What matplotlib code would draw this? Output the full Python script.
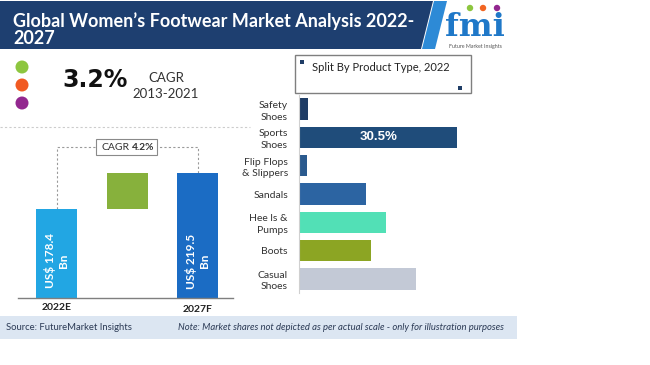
import matplotlib
matplotlib.use("Agg")
import matplotlib.pyplot as plt
from matplotlib.patches import Rectangle, Polygon, Circle

# ---- data ----
years = ["2022E", "", "2027F"]
market_start = 178.4
market_end = 219.5
cagr_forecast = "4.2%"
cagr_hist = "3.2%"
cagr_hist_period = "2013-2021"

products = ["Safety\nShoes", "Sports\nShoes", "Flip Flops\n& Slippers", "Sandals",
            "Hee ls &\nPumps", "Boots", "Casual\nShoes"]
shares = [1.7, 30.5, 1.6, 13.0, 16.8, 13.9, 22.5]
product_colors = ["#1f3d66", "#1f4c7a", "#2a5a8e", "#2c64a2", "#52e0b6", "#8ca523", "#c3c9d6"]

W, H = 650, 365
fig = plt.figure(figsize=(W / 100, H / 100), dpi=100)
fig.patch.set_facecolor("white")

def px_axes(x0, y0, x1, y1):
    return [x0 / W, 1 - y1 / H, (x1 - x0) / W, (y1 - y0) / H]

FONT = "Lato"

# ---- left chart: waterfall ----
axl = fig.add_axes(px_axes(18, 130, 233, 298))
ymin = 77
axl.set_xlim(-0.55, 2.5)
axl.set_ylim(ymin, ymin + 168 / 0.875)
bw = 0.58
axl.bar(0, market_start - ymin, bottom=ymin, width=bw, color="#22a6e3", zorder=2)
axl.bar(1, market_end - market_start, bottom=market_start, width=bw, color="#87b13c", zorder=2)
axl.bar(2, market_end - ymin, bottom=ymin, width=bw, color="#1b6cc4", zorder=2)
for s in ["top", "right", "left"]:
    axl.spines[s].set_visible(False)
axl.spines["bottom"].set_color("#7f7f7f")
axl.spines["bottom"].set_linewidth(1.0)
axl.set_yticks([])
axl.set_xticks([])
axl.patch.set_alpha(0)

bracket_y = ymin + (298 - 147) / 0.875
axl.plot([0, 0, 2, 2], [market_start, bracket_y, bracket_y, market_end],
         linestyle=(0, (2, 2)), color="#9a9a9a", lw=0.8, clip_on=False, zorder=1)

text_y = ymin + (298 - 261) / 0.875
for xi, v in [(0, market_start), (2, market_end)]:
    axl.text(xi, text_y, f"US$ {v}\nBn", rotation=90, ha="center", va="center",
             color="white", fontsize=8.5, fontweight="bold", family=FONT,
             multialignment="center", linespacing=1.25, zorder=3)

# ---- right chart: product split ----
axr = fig.add_axes(px_axes(299, 95, 470, 293))
ypos = list(range(len(products)))
axr.barh(ypos, shares, height=0.76, color=product_colors, zorder=2)
axr.set_ylim(len(products) - 0.5, -0.5)
axr.set_xlim(0, (470 - 299) / 5.19)
for s in ["top", "right", "bottom"]:
    axr.spines[s].set_visible(False)
axr.spines["left"].set_color("#d0d0d0")
axr.spines["left"].set_linewidth(0.8)
axr.set_xticks([])
axr.set_yticks(ypos)
axr.set_yticklabels(products, fontsize=7.5, color="#333333", family=FONT,
                    linespacing=1.35, ha="right")
axr.tick_params(axis="y", length=0, pad=8)
axr.patch.set_alpha(0)
imax = shares.index(max(shares))
axr.text(shares[imax] / 2, imax, f"{shares[imax]}%", ha="center", va="center",
         color="white", fontsize=9.5, fontweight="bold", family="Liberation Sans", zorder=3)

# ---- overlay / decorations in pixel coordinates ----
bg = fig.add_axes([0, 0, 1, 1], zorder=5)
bg.set_xlim(0, W)
bg.set_ylim(H, 0)
bg.axis("off")
bg.patch.set_alpha(0)

# banner
bg.add_patch(Polygon([(0, 1), (433, 1), (421, 49), (0, 49)], closed=True,
                     fc="#1e3f70", ec="none"))
bg.add_patch(Polygon([(434, 1), (447, 1), (435, 49), (422, 49)], closed=True,
                     fc="#2d8ad6", ec="none"))
bg.text(13, 21, "Global Women\u2019s Footwear Market Analysis 2022-", color="white",
        fontsize=13, fontweight="bold", family=FONT, va="center", ha="left")
bg.text(13, 39, "2027", color="white", fontsize=13, fontweight="bold",
        family=FONT, va="center", ha="left")

# logo
bg.text(475, 36, "fmi", color="#1f78c8", fontsize=23, fontweight="bold",
        family="DejaVu Serif", ha="center", va="baseline")
for cx, col in [(470, "#8dc63f"), (483, "#f26522"), (497, "#92278f")]:
    bg.add_patch(Circle((cx, 8), 3.2, fc=col, ec="none"))
bg.text(475, 46.5, "Future Market Insights", color="#555555", fontsize=3.8,
        family=FONT, ha="center", va="center")

# dots and historic CAGR
for cy, col in [(67, "#8dc63f"), (85, "#f15a22"), (103, "#93278f")]:
    bg.add_patch(Circle((22, cy), 6.5, fc=col, ec="none"))
bg.text(62, 87, cagr_hist, fontsize=17, fontweight="bold", family="DejaVu Sans",
        color="#111111", ha="left", va="baseline")
bg.text(166, 78, "CAGR", fontsize=9.5, family=FONT, color="#333333", ha="center", va="center")
bg.text(166, 94, cagr_hist_period, fontsize=9.5, family=FONT, color="#333333",
        ha="center", va="center")

# separator
bg.plot([0, 250], [127, 127], linestyle=(0, (2, 2)), color="#cccccc", lw=0.8)

# CAGR box
bg.add_patch(Rectangle((96, 139), 61, 16, fc="white", ec="#8a8a8a", lw=0.8))
bg.text(101, 147.5, "CAGR", fontsize=7.5, family=FONT, color="#333333", ha="left", va="center")
bg.text(132, 147.5, cagr_forecast, fontsize=7.3, fontweight="bold", family=FONT,
        color="#333333", ha="left", va="center")

# year labels
bg.text(57, 308, years[0], fontsize=7.5, fontweight="bold", family=FONT,
        color="#222222", ha="center", va="center")
bg.text(198, 310, years[2], fontsize=7.5, fontweight="bold", family=FONT,
        color="#222222", ha="center", va="center")

# legend box
bg.add_patch(Rectangle((295, 55), 176, 38, fc="white", ec="#7f7f7f", lw=1.0))
bg.add_patch(Rectangle((300, 60), 4, 4, fc="#1f3d66", ec="none"))
bg.add_patch(Rectangle((458, 86), 4, 4, fc="#1f3d66", ec="none"))
bg.text(312, 67.5, "Split By Product Type, 2022", fontsize=8, family=FONT,
        color="#222222", ha="left", va="center")

# footer
bg.add_patch(Rectangle((0, 316), 517, 23, fc="#dce6f2", ec="none"))
bg.text(6, 328, "Source: FutureMarket Insights", fontsize=6.8, family=FONT,
        color="#2b3a55", ha="left", va="center")
bg.text(178, 328, "Note: Market shares not depicted as per actual scale - only for illustration purposes",
        fontsize=6.8, family=FONT, style="italic", color="#2b3a55", ha="left", va="center")

fig.savefig("out.png", dpi=100, facecolor="white")
